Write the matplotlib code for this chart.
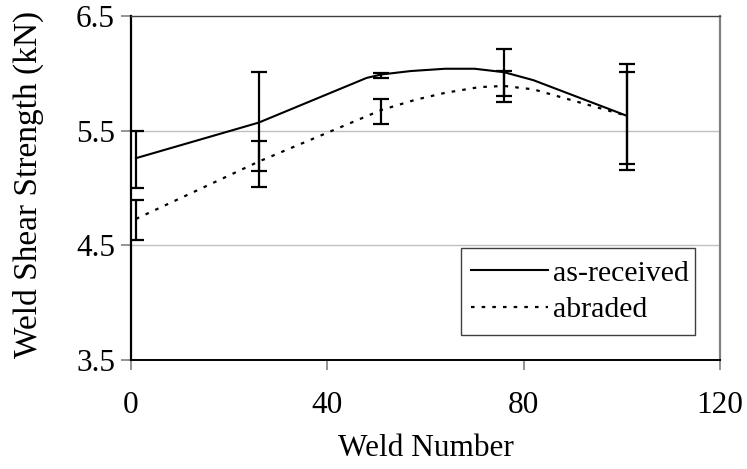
import matplotlib
matplotlib.use("Agg")
import matplotlib.pyplot as plt
from matplotlib.patches import Rectangle

# Weld shear strength vs weld number
weld_received = [1, 26, 48, 51, 57, 64, 70, 76, 82, 101]
strength_received = [5.26, 5.57, 5.96, 5.99, 6.02, 6.04, 6.04, 6.01, 5.94, 5.63]

weld_abraded = [1, 26, 51, 58, 64, 71, 76, 82, 101]
strength_abraded = [4.73, 5.23, 5.68, 5.77, 5.83, 5.88, 5.89, 5.86, 5.63]

# Scatter bands measured at every 25th weld
weld_bars = [1, 26, 51, 76, 101]
received_mean = [5.25, 5.58, 5.98, 6.005, 5.62]
received_err = [0.25, 0.43, 0.025, 0.205, 0.46]
abraded_mean = [4.72, 5.21, 5.665, 5.885, 5.61]
abraded_err = [0.175, 0.20, 0.11, 0.135, 0.40]

x_ticks = [0, 40, 80, 120]
y_ticks = [3.5, 4.5, 5.5, 6.5]

FS = 22.5
plt.rcParams["font.family"] = ["Liberation Serif", "DejaVu Serif"]

fig = plt.figure(figsize=(7.47, 4.69), dpi=100)
W, H = 747, 469
ax = fig.add_axes([131 / W, (H - 360) / H, (720 - 131) / W, (360 - 16) / H])

for yv in y_ticks[1:3]:
    ax.axhline(yv, color="#c0c0c0", lw=1.0, zorder=0)

ax.plot(weld_received, strength_received, color="black", lw=1.5,
        solid_joinstyle="round", label="as-received", zorder=3)
ax.plot(weld_abraded, strength_abraded, color="black", lw=1.6,
        linestyle=(0, (1.6, 3.2)), label="abraded", zorder=3)

ax.errorbar(weld_bars, received_mean, yerr=received_err, fmt="none",
            ecolor="black", elinewidth=1.6, capsize=6, capthick=1.6, zorder=4)
ax.errorbar(weld_bars, abraded_mean, yerr=abraded_err, fmt="none",
            ecolor="black", elinewidth=1.6, capsize=6, capthick=1.6, zorder=4)

ax.set_xlim(0, 120)
ax.set_ylim(3.5, 6.5)
ax.set_xticks(x_ticks)
ax.set_yticks(y_ticks)
ax.set_xticklabels([str(v) for v in x_ticks], fontsize=FS)
ax.set_yticklabels([f"{v:.1f}" for v in y_ticks], fontsize=FS)
ax.tick_params(axis="both", direction="out", length=7.5, width=1.2,
               color="#808080")
ax.tick_params(axis="x", pad=15)
ax.tick_params(axis="y", pad=4)

ax.spines["left"].set_color("black")
ax.spines["left"].set_linewidth(1.6)
ax.spines["bottom"].set_color("black")
ax.spines["bottom"].set_linewidth(1.4)
ax.spines["top"].set_color("#404040")
ax.spines["top"].set_linewidth(1.0)
ax.spines["right"].set_color("#808080")
ax.spines["right"].set_linewidth(1.6)

ax.set_xlabel("Weld Number", fontsize=FS, labelpad=10)
fig.text(28 / W, (H - 358) / H, "Weld Shear Strength (kN)", fontsize=24,
         rotation=90, ha="center", va="bottom")

# legend entries without their own frame; a plain box is drawn around them
box = Rectangle((461 / W, 1 - 335 / H), (695 - 461) / W, (335 - 248) / H,
                transform=fig.transFigure, facecolor="white",
                edgecolor="#404040", lw=1.0, zorder=5, clip_on=False)
ax.add_patch(box)
leg = ax.legend(loc="center", bbox_to_anchor=(580 / W, 1 - 291.5 / H),
                bbox_transform=fig.transFigure, borderaxespad=0,
                fontsize=21.5, frameon=False, handlelength=2.6,
                handletextpad=0.17, borderpad=0, labelspacing=0.33)
leg.set_zorder(6)

fig.savefig("out.png", dpi=100)
